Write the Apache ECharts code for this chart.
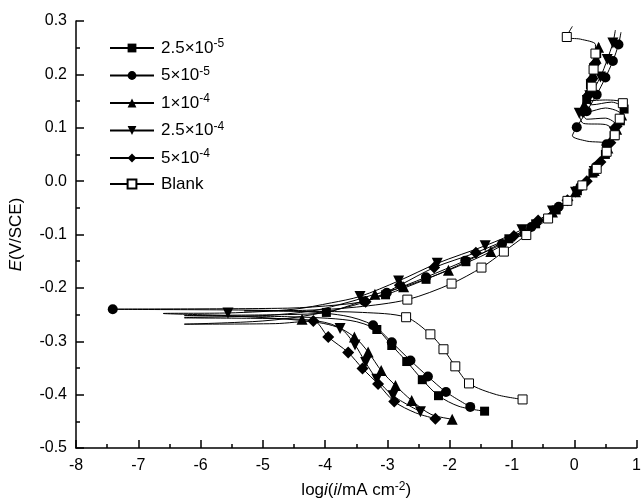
<!DOCTYPE html>
<html>
<head>
<meta charset="utf-8">
<script src="https://cdn.jsdelivr.net/npm/echarts/dist/echarts.min.js"></script>
<style>
html, body { margin: 0; padding: 0; background: #fff; }
#chart { width: 644px; height: 504px; }
</style>
</head>
<body>
<div id="chart"></div>
<script>
// Potentiodynamic polarisation curves.
// Each point: [log i (mA cm^-2), E (V/SCE), 1 = symbol drawn / 0 = line only]

const seriesNames = ['2.5×10^-5', '5×10^-5', '1×10^-4', '2.5×10^-4', '5×10^-4', 'Blank'];

const curve2p5e5 = [
  [-1.44,-0.431,1],[-1.85,-0.422,0],[-2.18,-0.402,1],[-2.44,-0.372,1],[-2.69,-0.338,1],
  [-2.93,-0.308,1],[-3.17,-0.278,1],[-3.6,-0.261,0],[-4.6,-0.254,0],[-6.26,-0.252,0],
  [-4.6,-0.250,0],[-3.98,-0.246,1],[-3.5,-0.229,0],[-3.03,-0.213,1],[-2.38,-0.184,1],
  [-1.74,-0.151,1],[-1.05,-0.108,1],[-0.62,-0.080,1],[-0.29,-0.054,1],[0.05,-0.018,1],
  [0.30,0.015,1],[0.50,0.050,1],[0.64,0.085,1],[0.74,0.113,1],[0.80,0.135,1],
  [0.60,0.148,0],[0.28,0.143,0],[0.20,0.153,1],[0.26,0.181,1],[0.31,0.211,1],
  [0.36,0.239,1],[0.40,0.258,0]
];

const curve5e5 = [
  [-1.67,-0.423,1],[-2.06,-0.395,1],[-2.35,-0.366,1],[-2.63,-0.336,1],[-2.93,-0.302,1],
  [-3.23,-0.270,1],[-3.7,-0.252,0],[-4.6,-0.243,0],[-7.41,-0.240,1],[-4.6,-0.238,0],
  [-3.8,-0.232,0],[-3.37,-0.225,1],[-3.01,-0.209,1],[-2.38,-0.180,1],[-1.75,-0.149,1],
  [-1.16,-0.118,1],[-0.69,-0.086,1],[-0.25,-0.048,1],[0.10,-0.010,1],[0.35,0.027,1],
  [0.52,0.069,1],[0.20,0.075,0],[-0.03,0.085,0],[0.04,0.101,1],[0.20,0.131,1],
  [0.36,0.162,1],[0.50,0.194,1],[0.62,0.225,1],[0.71,0.256,1],[0.75,0.279,0]
];

const curve1e4 = [
  [-1.96,-0.446,1],[-2.3,-0.437,0],[-2.61,-0.411,1],[-2.87,-0.383,1],[-3.10,-0.355,1],
  [-3.31,-0.320,1],[-3.53,-0.292,1],[-3.9,-0.268,0],[-4.37,-0.259,1],[-5.2,-0.257,0],
  [-6.26,-0.256,0],[-5.0,-0.252,0],[-4.2,-0.243,0],[-3.6,-0.226,0],[-3.2,-0.212,1],
  [-2.74,-0.198,1],[-2.02,-0.167,1],[-1.34,-0.132,1],[-0.80,-0.094,1],[-0.35,-0.058,1],
  [0.02,-0.020,1],[0.32,0.020,1],[0.54,0.062,1],[0.68,0.097,1],[0.76,0.124,1],
  [0.50,0.137,0],[0.22,0.130,0],[0.16,0.143,1],[0.24,0.171,1],[0.30,0.201,1],
  [0.35,0.230,1],[0.39,0.251,1]
];

const curve2p5e4 = [
  [-2.47,-0.432,1],[-2.91,-0.402,1],[-3.17,-0.371,1],[-3.35,-0.340,1],[-3.52,-0.307,1],
  [-3.76,-0.276,1],[-4.3,-0.262,0],[-5.6,-0.252,0],[-6.6,-0.248,0],[-5.56,-0.247,1],
  [-4.5,-0.240,0],[-3.9,-0.228,0],[-3.44,-0.216,1],[-2.82,-0.187,1],[-2.20,-0.154,1],
  [-1.43,-0.121,1],[-0.84,-0.091,1],[-0.35,-0.056,1],[0.02,-0.021,1],[0.32,0.018,1],
  [0.52,0.058,1],[0.64,0.092,1],[0.50,0.106,0],[0.15,0.108,0],[0.08,0.127,1],
  [0.25,0.160,1],[0.42,0.195,1],[0.53,0.228,1],[0.62,0.259,1],[0.66,0.283,0]
];

const curve5e4 = [
  [-2.23,-0.445,1],[-2.55,-0.434,0],[-2.89,-0.413,1],[-3.15,-0.380,1],[-3.40,-0.351,1],
  [-3.63,-0.321,1],[-3.95,-0.292,1],[-4.19,-0.262,1],[-4.8,-0.267,0],[-6.26,-0.268,0],
  [-5.0,-0.262,0],[-4.2,-0.250,0],[-3.35,-0.226,1],[-2.80,-0.195,1],[-2.25,-0.162,1],
  [-1.58,-0.134,1],[-0.97,-0.103,1],[-0.58,-0.074,1],[-0.11,-0.036,1],[0.20,0.000,1],
  [0.42,0.036,1],[0.58,0.072,1],[0.68,0.103,1],[0.50,0.118,0],[0.20,0.116,0],
  [0.14,0.130,1],[0.22,0.160,1],[0.28,0.190,1],[0.33,0.220,1],[0.36,0.240,0]
];

const curveBlank = [
  [-0.83,-0.409,1],[-1.25,-0.400,0],[-1.69,-0.379,1],[-1.91,-0.347,1],[-2.10,-0.315,1],
  [-2.31,-0.287,1],[-2.70,-0.255,1],[-3.4,-0.246,0],[-4.3,-0.244,0],[-5.3,-0.243,0],
  [-4.3,-0.242,0],[-3.5,-0.236,0],[-2.68,-0.222,1],[-1.97,-0.192,1],[-1.49,-0.162,1],
  [-1.13,-0.132,1],[-0.77,-0.101,1],[-0.42,-0.070,1],[-0.11,-0.037,1],[0.13,-0.008,1],
  [0.36,0.023,1],[0.52,0.055,1],[0.65,0.086,1],[0.73,0.117,1],[0.78,0.146,1],
  [0.50,0.152,0],[0.18,0.150,0],[0.28,0.177,1],[0.31,0.209,1],[0.34,0.239,1],
  [0.34,0.256,0],[0.10,0.266,0],[-0.12,0.270,1],[-0.03,0.290,0]
];

const curves = [curve2p5e5, curve5e5, curve1e4, curve2p5e4, curve5e4, curveBlank];

// marker look per curve
const markerStyle = [
  { symbol: 'rect', size: 9, rotate: 0, fill: '#000' },
  { symbol: 'circle', size: 10, rotate: 0, fill: '#000' },
  { symbol: 'triangle', size: 11, rotate: 0, fill: '#000' },
  { symbol: 'triangle', size: 11, rotate: 180, fill: '#000' },
  { symbol: 'diamond', size: 12, rotate: 0, fill: '#000' },
  { symbol: 'rect', size: 9, rotate: 0, fill: '#fff' }
];

const FONT = "'Liberation Sans', Arial, Helvetica, sans-serif";

function toData(pts) {
  return pts.map(p => p[2] ? { value: [p[0], p[1]] } : { value: [p[0], p[1]], symbol: 'none' });
}

const series = curves.map((pts, i) => {
  const m = markerStyle[i];
  return {
    name: seriesNames[i],
    type: 'line',
    data: toData(pts),
    smooth: 0.3,
    symbol: m.symbol,
    symbolSize: m.size,
    symbolRotate: m.rotate,
    showSymbol: true,
    lineStyle: { color: '#000', width: 1 },
    itemStyle: { color: m.fill, borderColor: '#000', borderWidth: m.fill === '#fff' ? 1 : 0 },
    emphasis: { disabled: true },
    animation: false,
    clip: true
  };
});

const chart = echarts.init(document.getElementById('chart'), null, { renderer: 'canvas' });

const axisCommon = {
  axisLine: { onZero: false, lineStyle: { color: '#000', width: 1.5 } },
  axisTick: { inside: true, length: 8, lineStyle: { color: '#000', width: 1.5 } },
  minorTick: { show: true, splitNumber: 2, length: 4, lineStyle: { color: '#000', width: 1.5 } },
  splitLine: { show: false },
  minorSplitLine: { show: false }
};

chart.setOption({
  backgroundColor: '#fff',
  animation: false,
  grid: { left: 71, right: 1, top: 21, bottom: 56, containLabel: false },
  legend: {
    orient: 'vertical',
    left: 104,
    top: 33,
    itemWidth: 44,
    itemHeight: 11,
    itemGap: 8.5,
    selectedMode: false,
    data: seriesNames,
    formatter: name => {
      const parts = name.split('^');
      return parts.length > 1 ? '{b|' + parts[0] + '}{s|' + parts[1] + '}' : '{b|' + name + '}';
    },
    textStyle: {
      color: '#000',
      fontFamily: FONT,
      rich: {
        b: { fontSize: 17, fontFamily: FONT, color: '#000', lineHeight: 20, padding: [0, 0, 0, 2] },
        s: { fontSize: 12, fontFamily: FONT, color: '#000', lineHeight: 20, verticalAlign: 'top', padding: [0, 0, 7, 0] }
      }
    }
  },
  xAxis: Object.assign({
    type: 'value',
    min: -8,
    max: 1,
    interval: 1,
    name: 'log{i|i}({i|i}/mA cm{s|-2})',
    nameLocation: 'middle',
    nameGap: 33,
    nameTextStyle: {
      fontSize: 17, fontFamily: FONT, color: '#000',
      rich: {
        i: { fontSize: 17, fontStyle: 'italic', fontFamily: FONT, color: '#000' },
        s: { fontSize: 12, fontFamily: FONT, color: '#000', verticalAlign: 'top', padding: [0, 0, 7, 0] }
      }
    },
    axisLabel: { color: '#000', fontSize: 16, fontFamily: FONT, margin: 10, formatter: v => String(Math.round(v)) }
  }, axisCommon),
  yAxis: Object.assign({
    type: 'value',
    min: -0.5,
    max: 0.3,
    interval: 0.1,
    name: '{i|E}(V/SCE)',
    nameLocation: 'middle',
    nameGap: 51,
    nameTextStyle: {
      fontSize: 17, fontFamily: FONT, color: '#000',
      rich: { i: { fontSize: 17, fontStyle: 'italic', fontFamily: FONT, color: '#000' } }
    },
    axisLabel: { color: '#000', fontSize: 16, fontFamily: FONT, margin: 9, formatter: v => v.toFixed(1) }
  }, axisCommon),
  series: series
});
</script>
</body>
</html>
